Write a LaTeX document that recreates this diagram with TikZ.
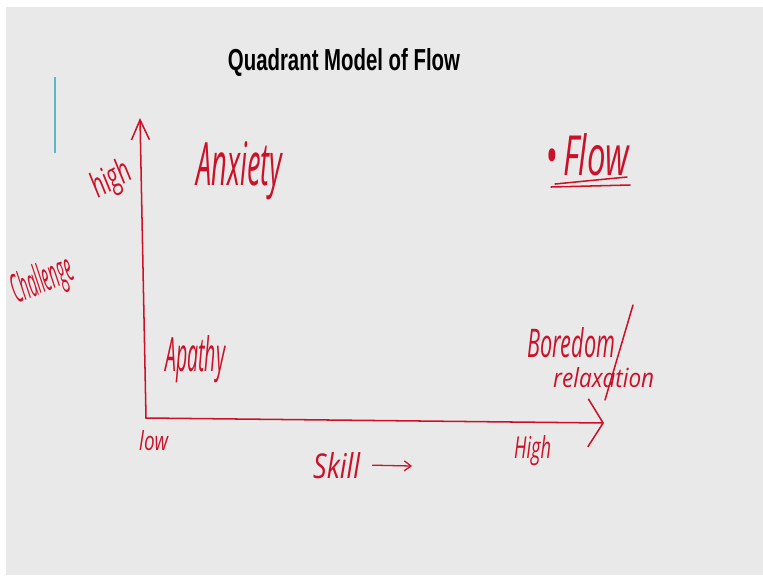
\documentclass[tikz,border=0pt]{standalone}
\usepackage{fontspec}
\usepackage{graphicx}
\usepackage{tikz}
\usetikzlibrary{positioning,arrows.meta}
\usepackage{xcolor}
\newfontfamily\handfont{Open Sans}
\newfontfamily\titlefont{Liberation Sans}
\definecolor{inkred}{RGB}{204,16,40}
\definecolor{slidegray}{RGB}{233,233,233}
\definecolor{barcyan}{RGB}{90,185,200}
\newlength\pxlen
\setlength\pxlen{0.03cm}
\newcommand{\hw}[3]{\resizebox{#1\pxlen}{#2\pxlen}{\handfont\itshape #3}}
\begin{document}
\begin{tikzpicture}[
    x=0.03cm, y=-0.03cm,
    hand/.style={inner sep=0pt,text=inkred,anchor=base west},
    ink/.style={draw=inkred,line width=1.3pt,line cap=round},
    axis/.style={ink,-{Straight Barb[length=#1]}},
    smallarr/.style={ink,line width=1.1pt,-{Straight Barb[length=0.2cm,width=0.3cm]}}
  ]
    % slide background
    \useasboundingbox (0,0) rectangle (763,575);
    \fill[white] (0,0) rectangle (763,575);
    \fill[slidegray] (6,7) rectangle (763,575);
    \draw[barcyan,line width=1pt] (55,77) -- (55,153);

    % title
    \node[inner sep=0pt] (title) at (344,62)
      {\resizebox{232\pxlen}{22\pxlen}{\titlefont\bfseries Quadrant Model of Flow}};

    % axes
    \coordinate (origin) at (146,418);
    \coordinate (ytop) at (140,118);
    \coordinate (xtip) at (604,423);
    \draw[ink,-{Straight Barb[length=0.6cm,width=0.54cm]}] (origin) -- (ytop);
    \draw[ink,-{Straight Barb[length=0.45cm,width=1.44cm]}] (origin) -- (xtip);

    % axis labels
    \node[hand,rotate=30] (high) at (98,199) {\hw{42}{26}{high}};
    \node[hand,rotate=23] (challenge) at (17,304) {\hw{64}{30}{Challenge}};
    \node[hand] (low) at (139,450) {\hw{29}{20}{low}};
    \node[hand] (highx) at (514,458) {\hw{37}{23}{High}};
    \node[hand] (skill) at (313,478) {\hw{47}{26}{Skill}};
    \coordinate (skillend) at (412,466);
    \draw[smallarr] ([xshift=0.36cm]skill.east) -- (skillend);

    % quadrants
    \node[hand] (anxiety) at (196,185) {\hw{86}{44}{Anxiety}};
    \node[hand] (flow) at (545,175) {\hw{84}{42}{\textbullet\,Flow}};
    \draw[ink] (551,187) -- (630,185);
    \draw[ink] (555,184) -- (627,177);
    \node[hand] (apathy) at (165,371) {\hw{60}{36}{Apathy}};
    \node[hand] (boredom) at (527,357) {\hw{88}{30}{Boredom}};
    \node[hand] (relax) at (553,387) {\hw{101}{20}{relaxation}};
    \draw[ink] (633,305) -- (605,400);
  \end{tikzpicture}
\end{document}
